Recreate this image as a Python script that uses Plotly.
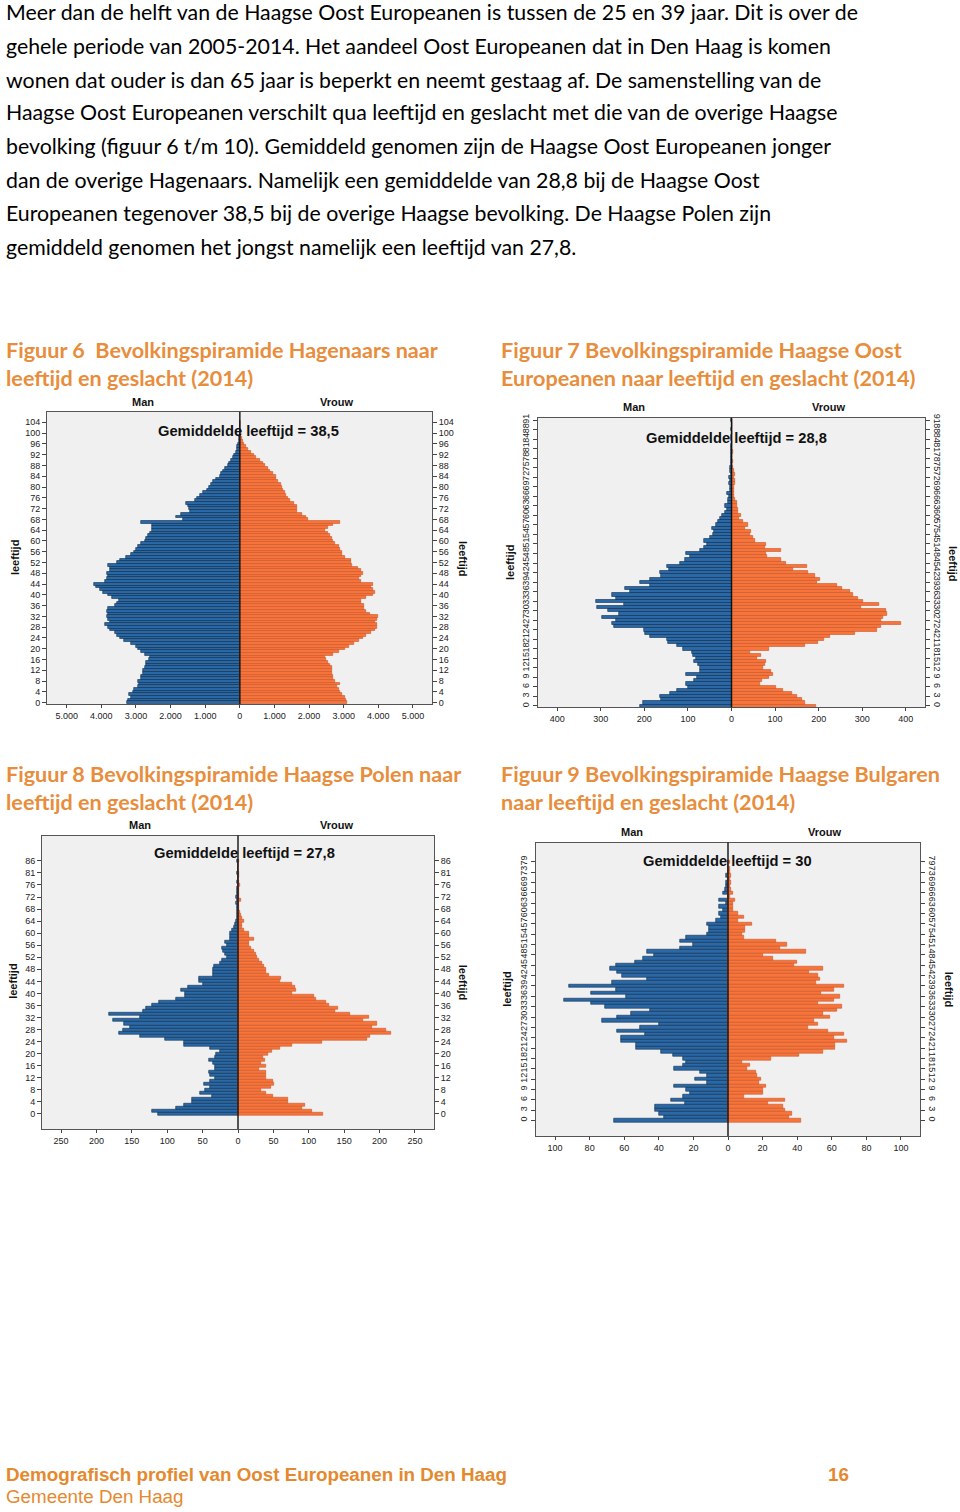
import plotly.graph_objects as go

W, H = 960, 1512

# ---------------- DATA ----------------
body_lines = [
    "Meer dan de helft van de Haagse Oost Europeanen is tussen de 25 en 39 jaar. Dit is over de",
    "gehele periode van 2005-2014. Het aandeel Oost Europeanen dat in Den Haag is komen",
    "wonen dat ouder is dan 65 jaar is beperkt en neemt gestaag af. De samenstelling van de",
    "Haagse Oost Europeanen verschilt qua leeftijd en geslacht met die van de overige Haagse",
    "bevolking (figuur 6 t/m 10). Gemiddeld genomen zijn de Haagse Oost Europeanen jonger",
    "dan de overige Hagenaars. Namelijk een gemiddelde van 28,8 bij de Haagse Oost",
    "Europeanen tegenover 38,5 bij de overige Haagse bevolking. De Haagse Polen zijn",
    "gemiddeld genomen het jongst namelijk een leeftijd van 27,8.",
]

titles = [
    ["Figuur 6  Bevolkingspiramide Hagenaars naar", "leeftijd en geslacht (2014)"],
    ["Figuur 7 Bevolkingspiramide Haagse Oost", "Europeanen naar leeftijd en geslacht (2014)"],
    ["Figuur 8 Bevolkingspiramide Haagse Polen naar", "leeftijd en geslacht (2014)"],
    ["Figuur 9 Bevolkingspiramide Haagse Bulgaren", "naar leeftijd en geslacht (2014)"],
]
mean_labels = ["Gemiddelde leeftijd = 38,5", "Gemiddelde leeftijd = 28,8",
               "Gemiddelde leeftijd = 27,8", "Gemiddelde leeftijd = 30"]

# Figuur 6: Hagenaars
ages6 = [str(a) for a in range(0, 105)]
men6 = [3250, 3230, 3150, 3200, 3100, 3050, 2950, 2900, 2950, 2850,
        2850, 2800, 2800, 2750, 2700, 2700, 2620, 2600, 2750, 2850,
        2950, 3000, 3150, 3350, 3450, 3550, 3620, 3750, 3800, 3900,
        3750, 3800, 3850, 3820, 3850, 3800, 3600, 3550, 3500, 3700,
        3800, 3950, 4050, 4150, 4200, 3900, 3850, 3800, 3850, 3750,
        3750, 3800, 3550, 3450, 3300, 3150, 3050, 3000, 2950, 2850,
        2750, 2700, 2650, 2600, 2550, 2550, 2550, 2850, 1650, 1850,
        1700, 1450, 1480, 1500, 1550, 1300, 1250, 1150, 1050, 950,
        880, 820, 780, 700, 580, 540, 480, 420, 350, 300,
        250, 200, 160, 120, 90, 70, 50, 35, 25, 15,
        10, 6, 4, 2, 1]
women6 = [3100, 3080, 3050, 2950, 2900, 2850, 2800, 2900, 2750, 2700,
          2700, 2650, 2650, 2650, 2600, 2550, 2500, 2450, 2700, 2850,
          3050, 3150, 3300, 3450, 3550, 3650, 3800, 3900, 3950, 3950,
          3900, 3950, 3980, 3750, 3650, 3600, 3600, 3500, 3500, 3650,
          3850, 3900, 3850, 3800, 3850, 3500, 3450, 3500, 3550, 3500,
          3400, 3250, 3200, 3200, 3050, 2950, 2950, 2900, 2850, 2750,
          2700, 2650, 2600, 2550, 2450, 2550, 2700, 2880, 1980, 1900,
          1800, 1650, 1650, 1650, 1550, 1450, 1380, 1330, 1300, 1250,
          1220, 1180, 1100, 1050, 1030, 950, 880, 800, 730, 680,
          580, 480, 420, 330, 240, 180, 130, 90, 60, 40,
          25, 15, 8, 4, 2]
ticks6 = [str(a) for a in range(0, 105, 4)]
xticks6 = [-5000, -4000, -3000, -2000, -1000, 0, 1000, 2000, 3000, 4000, 5000]
xtext6 = ["5.000", "4.000", "3.000", "2.000", "1.000", "0",
          "1.000", "2.000", "3.000", "4.000", "5.000"]

# Figuur 7: Haagse Oost Europeanen
ages7 = [str(a) for a in list(range(0, 85)) + [85, 86, 88, 89, 90, 91]]
men7 = [211, 203, 162, 163, 140, 125, 99, 104, 87, 79,
        105, 72, 73, 76, 85, 82, 89, 91, 112, 124,
        146, 148, 188, 199, 200, 270, 274, 264, 298, 259,
        283, 308, 247, 311, 264, 274, 232, 244, 186, 211,
        188, 161, 165, 143, 148, 119, 107, 96, 104, 72,
        63, 56, 64, 49, 43, 41, 44, 35, 30, 26,
        22, 15, 11, 15, 9, 9, 6, 10, 3, 4,
        5, 3, 5, 2, 4, 3, 2, 1, 2, 1,
        1, 2, 1, 0, 1, 1, 0, 1, 0, 0, 1]
women7 = [195, 169, 161, 150, 138, 118, 102, 66, 69, 87,
          96, 91, 73, 76, 79, 58, 67, 43, 87, 169,
          199, 213, 226, 283, 333, 344, 388, 344, 348, 356,
          354, 298, 338, 302, 291, 278, 272, 253, 241, 197,
          203, 192, 175, 142, 173, 124, 114, 82, 79, 114,
          77, 79, 54, 49, 43, 45, 32, 38, 27, 18,
          21, 14, 14, 12, 12, 9, 6, 6, 5, 5,
          9, 9, 5, 7, 5, 3, 2, 4, 2, 2,
          3, 1, 2, 1, 1, 2, 1, 1, 0, 1, 1]
ticks7 = ["0", "3", "6", "9", "12", "15", "18", "21", "24", "27", "30", "33", "36",
          "39", "42", "45", "48", "51", "54", "57", "60", "63", "66", "69", "72",
          "75", "78", "81", "84", "88", "91"]
xticks7 = [-400, -300, -200, -100, 0, 100, 200, 300, 400]
xtext7 = ["400", "300", "200", "100", "0", "100", "200", "300", "400"]

# Figuur 8: Haagse Polen
ages8 = [str(a) for a in list(range(0, 77)) + [77, 78, 79, 81, 82, 83, 84, 86]]
men8 = [113, 122, 87, 77, 65, 65, 37, 54, 46, 40,
        48, 39, 33, 40, 41, 32, 33, 35, 41, 33,
        31, 25, 40, 76, 76, 103, 139, 168, 163, 153,
        161, 177, 138, 182, 134, 130, 121, 111, 88, 75,
        75, 80, 70, 50, 55, 55, 36, 35, 36, 34,
        26, 23, 15, 18, 21, 22, 16, 19, 12, 12,
        12, 8, 6, 4, 3, 2, 2, 2, 1, 1,
        3, 2, 3, 1, 1, 1, 0, 1, 0, 0,
        1, 0, 0, 0, 1]
women8 = [120, 105, 90, 94, 70, 70, 49, 40, 33, 46,
          51, 49, 40, 40, 39, 29, 40, 33, 38, 36,
          43, 48, 60, 77, 119, 183, 186, 216, 209, 190,
          196, 177, 185, 158, 137, 142, 128, 125, 110, 107,
          77, 82, 80, 77, 60, 61, 44, 40, 40, 37,
          34, 30, 27, 25, 22, 18, 16, 15, 22, 15,
          16, 8, 6, 6, 8, 6, 4, 3, 2, 1,
          2, 4, 2, 1, 1, 1, 3, 1, 0, 1,
          1, 0, 0, 0, 1]
ticks8 = ["0", "4", "8", "12", "16", "20", "24", "28", "32", "36", "40", "44",
          "48", "52", "56", "60", "64", "68", "72", "76", "81", "86"]
xticks8 = [-250, -200, -150, -100, -50, 0, 50, 100, 150, 200, 250]
xtext8 = ["250", "200", "150", "100", "50", "0", "50", "100", "150", "200", "250"]

# Figuur 9: Haagse Bulgaren
ages9 = [str(a) for a in list(range(0, 70)) + [70, 71, 73, 74, 76, 79]]
men9 = [66, 37, 40, 42, 42, 25, 33, 26, 22, 24,
        31, 12, 19, 12, 16, 31, 26, 24, 26, 32,
        39, 53, 53, 62, 62, 48, 64, 51, 40, 73,
        64, 56, 45, 71, 79, 95, 59, 79, 65, 92,
        67, 47, 61, 64, 68, 65, 54, 49, 43, 47,
        28, 20, 28, 24, 12, 11, 11, 12, 7, 4,
        5, 3, 5, 1, 5, 0, 3, 2, 1, 1,
        0, 1, 0, 0, 0, 0]
women9 = [42, 35, 37, 33, 32, 23, 33, 9, 20, 20,
          22, 18, 19, 17, 16, 11, 13, 8, 25, 41,
          55, 62, 62, 69, 61, 67, 58, 46, 52, 50,
          59, 55, 63, 66, 52, 61, 65, 54, 61, 67,
          51, 53, 52, 47, 55, 38, 40, 26, 20, 45,
          30, 34, 28, 9, 8, 10, 10, 14, 6, 9,
          6, 3, 3, 3, 4, 1, 3, 2, 1, 2,
          1, 2, 1, 1, 0, 1]
ticks9 = ["0", "3", "6", "9", "12", "15", "18", "21", "24", "27", "30", "33", "36",
          "39", "42", "45", "48", "51", "54", "57", "60", "63", "66", "69", "73", "79"]
xticks9 = [-100, -80, -60, -40, -20, 0, 20, 40, 60, 80, 100]
xtext9 = ["100", "80", "60", "40", "20", "0", "20", "40", "60", "80", "100"]

# ---------------- STYLE / LAYOUT ----------------
BLUE = "#2a69a6"
BLUE_LINE = "#0e2c4d"
ORANGE = "#f7743a"
ORANGE_LINE = "#c9562a"
HEAD = "#e88d3c"
FOOT = "#e5892f"
TICKFONT = dict(family="Liberation Sans, Arial", size=9, color="#222")


def px(x):
    return x / W


def py(y):
    return 1 - y / H


charts = [
    dict(ages=ages6, men=men6, women=women6, yt=ticks6, xt=xticks6, xtt=xtext6,
         xr=[-5570, 5550], yr=[-0.6, 107.9], box=(47, 410, 432, 704), la=0, ra=0,
         man=(143, 400), vrouw=(336, 400), lf=(15, 557), rf=(463, 557), mean=(248, 429)),
    dict(ages=ages7, men=men7, women=women7, yt=ticks7, xt=xticks7, xtt=xtext7,
         xr=[-444, 444], yr=[-0.4, 90.7], box=(538, 416, 925, 707), la=-90, ra=90,
         man=(634, 405), vrouw=(828, 405), lf=(510, 562), rf=(953, 562), mean=(736, 436)),
    dict(ages=ages8, men=men8, women=women8, yt=ticks8, xt=xticks8, xtt=xtext8,
         xr=[-277, 277], yr=[-5, 92.4], box=(42, 836, 434, 1131), la=0, ra=0,
         man=(140, 825), vrouw=(336, 825), lf=(13, 983), rf=(463, 983), mean=(244, 854)),
    dict(ages=ages9, men=men9, women=women9, yt=ticks9, xt=xticks9, xtt=xtext9,
         xr=[-111, 111], yr=[-4.5, 80.6], box=(536, 843, 920, 1138), la=-90, ra=90,
         man=(632, 832), vrouw=(824, 832), lf=(507, 990), rf=(949, 990), mean=(727, 862)),
]

fig = go.Figure()
layout = dict(width=W, height=H, margin=dict(l=0, r=0, t=0, b=0),
              paper_bgcolor="white", plot_bgcolor="#f0f0f0", showlegend=False,
              barmode="overlay", bargap=0)
annotations = []
shapes = []


def note(text, x, y, font, xanchor="center", angle=0):
    annotations.append(dict(text=text, x=px(x), y=py(y), xref="paper", yref="paper",
                            xanchor=xanchor, yanchor="middle", showarrow=False,
                            font=font, textangle=angle))


for k, c in enumerate(charts):
    xn = k + 1
    yl = 2 * k + 1
    yr_ = 2 * k + 2
    xname = "x" if xn == 1 else f"x{xn}"
    ylname = "y" if yl == 1 else f"y{yl}"
    yrname = f"y{yr_}"
    l, t, r, b = c["box"]

    fig.add_trace(go.Bar(
        y=c["ages"], x=[-v for v in c["men"]], orientation="h", width=1,
        marker=dict(color=BLUE, line=dict(color=BLUE_LINE, width=0.6)),
        xaxis=xname, yaxis=ylname, hoverinfo="skip"))
    fig.add_trace(go.Bar(
        y=c["ages"], x=c["women"], orientation="h", width=1,
        marker=dict(color=ORANGE, line=dict(color=ORANGE_LINE, width=0.6)),
        xaxis=xname, yaxis=yrname, hoverinfo="skip"))

    xkey = "xaxis" if xn == 1 else f"xaxis{xn}"
    ylkey = "yaxis" if yl == 1 else f"yaxis{yl}"
    yrkey = f"yaxis{yr_}"

    layout[xkey] = dict(domain=[px(l), px(r)], anchor=ylname, range=c["xr"],
                        tickvals=c["xt"], ticktext=c["xtt"], ticks="outside", ticklen=3,
                        tickcolor="#444", tickfont=TICKFONT, showgrid=False,
                        zeroline=False, showline=True, linecolor="#555", linewidth=1,
                        mirror=True, fixedrange=True)
    common_y = dict(domain=[py(b), py(t)], type="category", categoryorder="array",
                    categoryarray=c["ages"], range=c["yr"], tickvals=c["yt"],
                    ticks="outside", ticklen=4, tickcolor="#444", tickfont=TICKFONT,
                    showgrid=False, zeroline=False, showline=True, linecolor="#555",
                    linewidth=1, fixedrange=True)
    layout[ylkey] = dict(common_y, anchor=xname, side="left", tickangle=c["la"])
    layout[yrkey] = dict(common_y, anchor=xname, side="right", overlaying=ylname,
                         tickangle=c["ra"])

    shapes.append(dict(type="line", xref=xname, yref=f"{ylname} domain",
                       x0=0, x1=0, y0=0, y1=1, line=dict(color="#111", width=1.4),
                       layer="above"))

    lab = dict(family="Liberation Sans, Arial", size=11, color="#111")
    note("<b>Man</b>", *c["man"], lab)
    note("<b>Vrouw</b>", *c["vrouw"], lab)
    note("<b>leeftijd</b>", *c["lf"], lab, angle=-90)
    note("<b>leeftijd</b>", *c["rf"], lab, angle=90)
    note("<b>" + mean_labels[k] + "</b>", *c["mean"],
         dict(family="Liberation Sans, Arial", size=14.7, color="#111"))

# body text
body_y = [8, 42, 76, 109, 143, 177, 210, 244]
for line, yy in zip(body_lines, body_y):
    note(line, 4, yy, dict(family="Lato, Open Sans", size=21.3, color="#000"), xanchor="left")

# figure titles
title_pos = [(4, 348), (499, 348), (4, 774), (499, 774)]
for (tx, ty), tl in zip(title_pos, titles):
    for i, line in enumerate(tl):
        note("<b>" + line + "</b>", tx, ty + 28 * i,
             dict(family="Lato, Open Sans", size=21.6, color=HEAD), xanchor="left")

# footer
ff = dict(family="Liberation Sans, Arial", size=18.8, color=FOOT)
note("<b>Demografisch profiel van Oost Europeanen in Den Haag</b>", 4, 1478, ff, xanchor="left")
note("<b>16</b>", 826, 1478, ff, xanchor="left")
note("Gemeente Den Haag", 4, 1500, ff, xanchor="left")

layout["annotations"] = annotations
layout["shapes"] = shapes
fig.update_layout(**layout)
fig.write_html("out.html", config={"displayModeBar": False},
               post_script="document.body.style.margin='0';document.body.style.overflow='hidden';")
